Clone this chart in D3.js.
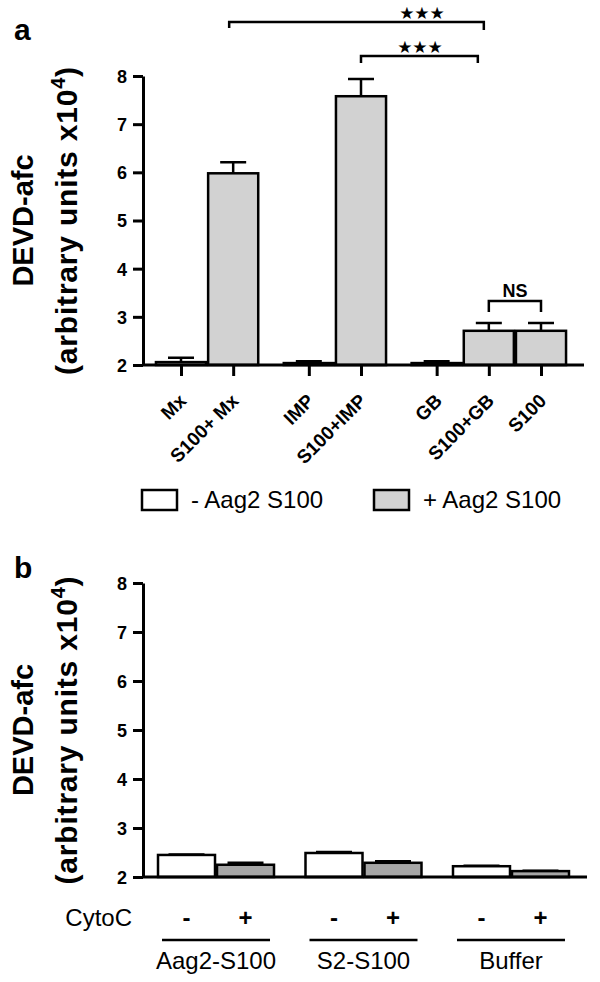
<!DOCTYPE html>
<html><head><meta charset="utf-8">
<script src="https://cdn.jsdelivr.net/npm/d3@7"></script>
<style>
html,body{margin:0;padding:0;background:#fff;}
svg{display:block;font-family:"Liberation Sans",Arial,sans-serif;}
</style></head>
<body>
<svg id="c" width="600" height="982"></svg>
<script>
// ---------- data ----------
const catsA   = ["Mx","S100+ Mx","IMP","S100+IMP","GB","S100+GB","S100"];
const groupA  = [0,0,1,1,2,2,2];
const valsA   = [2.06,5.98,2.04,7.58,2.04,2.71,2.71];
const errA    = [0.09,0.23,0.04,0.36,0.04,0.16,0.16];
const seriesA = ["-","+","-","+","-","+","+"];
const legendLabels = ["- Aag2 S100","+ Aag2 S100"];
const yTicks  = [2,3,4,5,6,7,8];

const groupsB = ["Aag2-S100","S2-S100","Buffer"];
const cytoB   = ["-","+"];
const valsB   = [[2.45,2.25],[2.49,2.29],[2.22,2.12]];
const errB    = [[0.01,0.04],[0.02,0.03],[0.01,0.01]];

// ---------- setup ----------
const svg = d3.select("#c");
const FONT = "'Liberation Sans', Arial, sans-serif";
const grayA = "#d2d2d2", grayB = "#a6a6a6";
const AX = 143;

function yTitle(g, cy){
  g.append("text").attr("transform",`translate(33,${cy}) rotate(-90)`)
    .attr("text-anchor","middle").attr("font-size",29).attr("font-weight","bold").text("DEVD-afc");
  const t = g.append("text").attr("transform",`translate(77,${cy}) rotate(-90)`)
    .attr("text-anchor","middle").attr("font-size",30).attr("font-weight","bold").attr("letter-spacing",0.8);
  t.append("tspan").text("(arbitrary units x10");
  t.append("tspan").attr("dy",-12).attr("font-size",20).text("4");
  t.append("tspan").attr("dy",12).text(")");
}
function styleY(ax){
  ax.select(".domain").attr("stroke-width",3);
  ax.selectAll(".tick line").attr("stroke-width",3);
  ax.selectAll(".tick text").attr("font-size",18).attr("font-weight","bold").attr("font-family",FONT).attr("x",-16).attr("dy","0.36em");
}

// ---------- Panel a ----------
const ya = d3.scaleLinear().domain([2,8]).range([365,76]);
const slotA = catsA.map((c,i)=> i + groupA[i]*0.45);
const xa = d3.scaleLinear().domain([0,6.9]).range([181,541]);
const bwA = xa(0.96)-xa(0);

const ga = svg.append("g");
styleY(ga.append("g").attr("transform",`translate(${AX},0)`)
  .call(d3.axisLeft(ya).tickValues(yTicks).tickSize(10).tickSizeOuter(0).tickFormat(d3.format("d"))));

ga.selectAll("rect.bar").data(catsA).join("rect")
  .attr("x",(d,i)=>xa(slotA[i])-bwA/2)
  .attr("y",(d,i)=>ya(valsA[i]))
  .attr("width",bwA)
  .attr("height",(d,i)=>ya(2)-ya(valsA[i]))
  .attr("fill",(d,i)=>seriesA[i]==="+"?grayA:"#fff")
  .attr("stroke","#000").attr("stroke-width",2.5);
ga.selectAll("path.err").data(catsA).join("path")
  .attr("d",(d,i)=>{const x=xa(slotA[i]),y0=ya(valsA[i]),y1=ya(valsA[i]+errA[i]);
     return `M${x},${y0}V${y1}M${x-13},${y1}H${x+13}`;})
  .attr("stroke","#000").attr("stroke-width",2.5).attr("fill","none");

const xAxA = ga.append("g").attr("transform",`translate(0,${ya(2)})`)
  .call(d3.axisBottom(xa).tickValues(slotA).tickSize(11).tickSizeOuter(0).tickFormat((d,i)=>catsA[i]));
xAxA.select(".domain").attr("d",`M${AX},0H584`).attr("stroke-width",3);
xAxA.selectAll(".tick line").attr("stroke-width",3);
xAxA.selectAll(".tick text")
  .attr("font-size",19).attr("font-weight","bold").attr("font-family",FONT)
  .attr("text-anchor","end").attr("y",0).attr("dy",0)
  .attr("transform","translate(6,37) rotate(-45)");

yTitle(ga,(ya(2)+ya(8))/2);
svg.append("text").attr("x",14).attr("y",40).attr("font-size",30).attr("font-weight","bold").text("a");

function bracket(x1,x2,y,drop1,drop2,label,lx,ly,fs,star){
  ga.append("path").attr("d",`M${x1},${y+drop1}V${y}H${x2}V${y+drop2}`)
    .attr("fill","none").attr("stroke","#000").attr("stroke-width",2.5);
  ga.append("text").attr("x",lx).attr("y",ly).attr("text-anchor","middle")
    .attr("font-size",fs).attr("font-weight","bold").attr("font-family",star?"DejaVu Sans":FONT)
    .text(label);
}
bracket(xa(slotA[1])-4, xa(slotA[5])-5, 22, 6, 8, "★★★", 422, 19, 17, true);
bracket(xa(slotA[3]), xa(slotA[5])-11, 56, 7, 7, "★★★", 420, 53, 17, true);
bracket(xa(slotA[5]), xa(slotA[6]), 301, 11, 11, "NS", (xa(slotA[5])+xa(slotA[6]))/2, 297, 18, false);

const lg = svg.append("g");
[0,1].forEach(k=>{
  const bx = k===0?142:374;
  lg.append("rect").attr("x",bx).attr("y",490).attr("width",35).attr("height",20)
    .attr("fill",k===0?"#fff":grayA).attr("stroke","#000").attr("stroke-width",2.5);
  lg.append("text").attr("x",bx+49).attr("y",508).attr("font-size",24).text(legendLabels[k]);
});

// ---------- Panel b ----------
const yb = d3.scaleLinear().domain([2,8]).range([877,583]);
const xb = d3.scaleBand().domain(groupsB).range([AX,584]).paddingInner(0.2).paddingOuter(0.095);
const xbi = d3.scaleBand().domain(cytoB).range([0,xb.bandwidth()]).padding(0);

const gb = svg.append("g");
styleY(gb.append("g").attr("transform",`translate(${AX},0)`)
  .call(d3.axisLeft(yb).tickValues(yTicks).tickSize(10).tickSizeOuter(0).tickFormat(d3.format("d"))));

const flatB = [];
groupsB.forEach((g,gi)=>cytoB.forEach((c,ci)=>flatB.push({g,c,v:valsB[gi][ci],e:errB[gi][ci]})));
gb.selectAll("rect.bar").data(flatB).join("rect")
  .attr("x",d=>xb(d.g)+xbi(d.c)+1)
  .attr("y",d=>yb(d.v))
  .attr("width",xbi.bandwidth()-2)
  .attr("height",d=>yb(2)-yb(d.v))
  .attr("fill",d=>d.c==="+"?grayB:"#fff")
  .attr("stroke","#000").attr("stroke-width",2.5);
gb.selectAll("path.err").data(flatB).join("path")
  .attr("d",d=>{const x=xb(d.g)+xbi(d.c)+xbi.bandwidth()/2,y0=yb(d.v),y1=yb(d.v+d.e);
     return `M${x},${y0}V${y1}M${x-18},${y1}H${x+18}`;})
  .attr("stroke","#000").attr("stroke-width",2.5).attr("fill","none");
gb.append("path").attr("d",`M${AX},${yb(2)}H587`).attr("stroke","#000").attr("stroke-width",3);

yTitle(gb,(yb(2)+yb(8))/2);
svg.append("text").attr("x",14).attr("y",578).attr("font-size",30).attr("font-weight","bold").text("b");

gb.append("text").attr("x",132).attr("y",926).attr("text-anchor","end").attr("font-size",24).text("CytoC");
gb.selectAll("text.sign").data(flatB).join("text")
  .attr("x",d=>xb(d.g)+xbi(d.c)+xbi.bandwidth()/2)
  .attr("y",926).attr("text-anchor","middle").attr("font-size",24).attr("font-weight","bold")
  .text(d=>d.c);
gb.selectAll("path.under").data(groupsB).join("path")
  .attr("d",d=>{const c=xb(d)+xb.bandwidth()/2; return `M${c-54},940H${c+54}`;})
  .attr("stroke","#000").attr("stroke-width",2.5);
gb.selectAll("text.glab").data(groupsB).join("text")
  .attr("x",d=>xb(d)+xb.bandwidth()/2).attr("y",969).attr("text-anchor","middle")
  .attr("font-size",24).text(d=>d);
</script>
</body></html>
